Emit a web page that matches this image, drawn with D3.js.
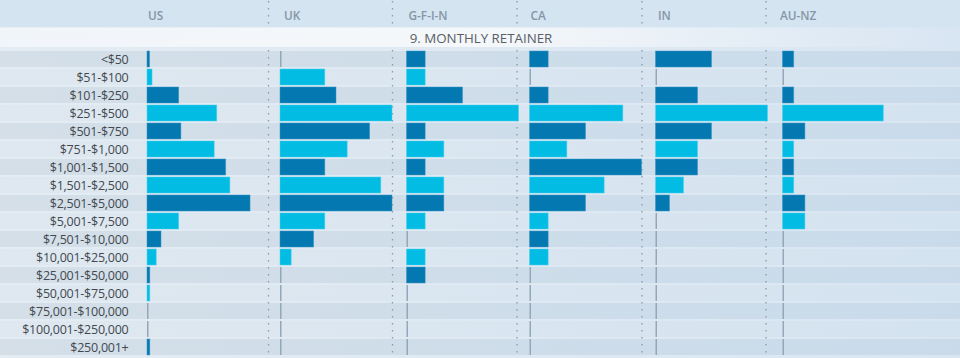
<!DOCTYPE html>
<html><head><meta charset="utf-8">
<script src="https://cdn.jsdelivr.net/npm/d3@7"></script>
<style>
body{margin:0;background:#dce8f2;}
svg{display:block;font-family:"Open Sans",sans-serif;}
</style>
</head><body>
<svg id="c" width="960" height="358"></svg>
<script>
// ---------- data ----------
const chartTitle = "9. MONTHLY RETAINER";
const regions = ["US", "UK", "G-F-I-N", "CA", "IN", "AU-NZ"];
const ranges = ["<$50", "$51-$100", "$101-$250", "$251-$500", "$501-$750", "$751-$1,000",
  "$1,001-$1,500", "$1,501-$2,500", "$2,501-$5,000", "$5,001-$7,500", "$7,501-$10,000",
  "$10,001-$25,000", "$25,001-$50,000", "$50,001-$75,000", "$75,001-$100,000",
  "$100,001-$250,000", "$250,001+"];
const usValues   = [0.9, 1.8, 11.3, 24.9, 12.1, 24.0, 28.1, 29.6, 36.8, 11.3, 5.0, 3.3, 1.0, 1.0, 0, 0, 1.0];
const ukValues   = [0, 4, 5, 10, 8, 6, 4, 9, 10, 4, 3, 1, 0, 0, 0, 0, 0];
const gfinValues = [1, 1, 3, 6, 1, 2, 1, 2, 2, 1, 0, 1, 1, 0, 0, 0, 0];
const caValues   = [1, 0, 1, 5, 3, 2, 6, 4, 3, 1, 1, 1, 0, 0, 0, 0, 0];
const inValues   = [4, 0, 3, 8, 4, 3, 3, 2, 1, 0, 0, 0, 0, 0, 0, 0, 0];
const aunzValues = [1, 0, 1, 9, 2, 1, 1, 1, 2, 2, 0, 0, 0, 0, 0, 0, 0];
const seriesValues = [usValues, ukValues, gfinValues, caValues, inValues, aunzValues];
const domainMax = [40, 10, 6, 6, 8, 10];

// ---------- layout ----------
const W = 960, H = 358;
const svg = d3.select("#c");
const defs = svg.append("defs");

function hGrad(id, c0, c1) {
  const g = defs.append("linearGradient").attr("id", id).attr("x1", "0%").attr("x2", "100%");
  g.append("stop").attr("offset", "0%").attr("stop-color", c0);
  g.append("stop").attr("offset", "100%").attr("stop-color", c1);
}
hGrad("gBase", "#e4ecf3", "#d9e6f2");
hGrad("gDark", "#d4dfe8", "#c9dbeb");
hGrad("gLight", "#dfe8f0", "#d4e3f0");
const tg = defs.append("linearGradient").attr("id", "gTitle").attr("x1", "0%").attr("x2", "100%");
tg.append("stop").attr("offset", "0%").attr("stop-color", "#f2f6fa");
tg.append("stop").attr("offset", "50%").attr("stop-color", "#f7f9fb");
tg.append("stop").attr("offset", "100%").attr("stop-color", "#d8e5f2");

const y = d3.scaleBand().domain(ranges).range([50, 356]).paddingInner(0.11).paddingOuter(0.055);
const colX = d3.scaleOrdinal().domain(regions).range([147, 280, 406.5, 529.5, 655.5, 782.5]);
const labelX = d3.scaleOrdinal().domain(regions).range([148, 284, 408.5, 530.5, 658, 780]);
const sepX = d3.scaleOrdinal().domain(regions.slice(1)).range([268.5, 392.5, 517, 642, 766]);
const barW = 112;

// backgrounds
svg.append("rect").attr("x", 0).attr("y", 0).attr("width", W).attr("height", H).attr("fill", "url(#gBase)");
svg.append("rect").attr("x", 0).attr("y", 0).attr("width", W).attr("height", 27.5).attr("fill", "#d4e4f1");

svg.append("g").selectAll("rect").data(ranges).join("rect")
  .attr("x", 0).attr("width", W)
  .attr("y", d => y(d)).attr("height", y.bandwidth())
  .attr("fill", (d, i) => i % 2 === 0 ? "url(#gDark)" : "url(#gLight)");

// separators
svg.append("g").selectAll("line").data(regions.slice(1)).join("line")
  .attr("x1", d => sepX(d)).attr("x2", d => sepX(d))
  .attr("y1", 1).attr("y2", H)
  .attr("stroke", "#8a9aa9").attr("stroke-width", 1.3)
  .attr("stroke-dasharray", "1.5,5.5");

// title band
svg.append("rect").attr("x", 0).attr("y", 27.5).attr("width", W).attr("height", 19.5)
  .attr("fill", "url(#gTitle)").attr("fill-opacity", 0.93);
svg.append("text").attr("x", 481).attr("y", 42.5)
  .attr("text-anchor", "middle").attr("font-size", 13.3).attr("fill", "#585e66")
  .text(chartTitle);

// header labels
svg.append("g").selectAll("text").data(regions).join("text")
  .attr("x", d => labelX(d)).attr("y", 20)
  .attr("font-size", 11.8).attr("font-weight", 600).attr("fill", "#8696a6")
  .text(d => d);

// row labels
svg.append("g").selectAll("text").data(ranges).join("text")
  .attr("x", 128.5).attr("y", d => y(d) + y.bandwidth() / 2).attr("dy", "0.37em")
  .attr("text-anchor", "end").attr("font-size", 12.5).attr("letter-spacing", "-0.25px")
  .attr("fill", "#43484f")
  .text(d => d);

// bars
regions.forEach((reg, ci) => {
  const x = d3.scaleLinear().domain([0, domainMax[ci]]).range([0, barW]);
  const g = svg.append("g").attr("transform", `translate(${colX(reg)},0)`);
  const rows = ranges.map((r, j) => ({ r, j, v: seriesValues[ci][j] }));
  g.selectAll("rect").data(rows.filter(d => d.v > 0)).join("rect")
    .attr("x", 0).attr("y", d => y(d.r))
    .attr("width", d => x(d.v)).attr("height", y.bandwidth())
    .attr("fill", d => d.j % 2 === 0 ? "#0479b1" : "#02bce4")
    .attr("stroke", d => d.j % 2 === 0 ? "#3595c4" : "#4fd0ee")
    .attr("stroke-width", 0.8).attr("stroke-opacity", 0.6);
  g.selectAll("line").data(rows.filter(d => d.v === 0)).join("line")
    .attr("x1", 0.75).attr("x2", 0.75)
    .attr("y1", d => y(d.r)).attr("y2", d => y(d.r) + y.bandwidth())
    .attr("stroke", "#93a7b8").attr("stroke-width", 1.5);
});
</script>
</body></html>
